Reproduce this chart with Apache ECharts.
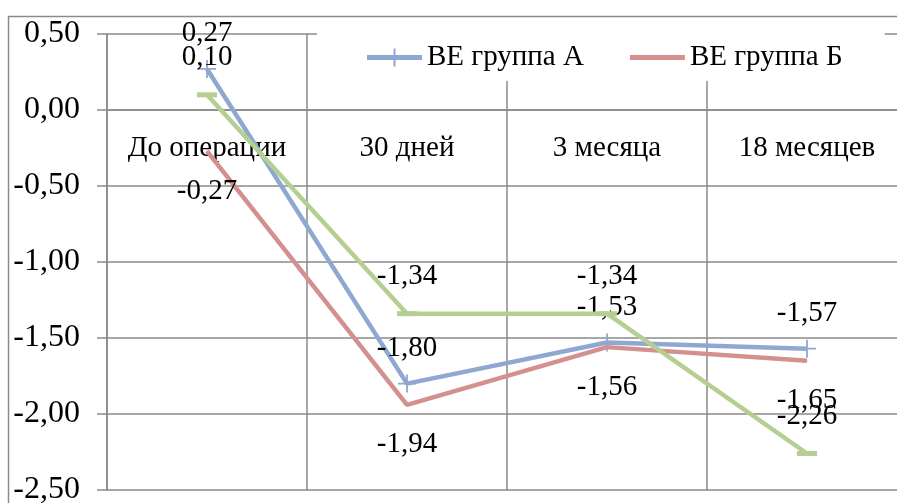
<!DOCTYPE html>
<html>
<head>
<meta charset="utf-8">
<script src="https://cdn.jsdelivr.net/npm/echarts@6/dist/echarts.min.js"></script>
<style>
  html, body { margin: 0; padding: 0; background: #fff; }
  #chart { width: 897px; height: 503px; }
</style>
</head>
<body>
<div id="chart"></div>
<script>
// Time points of the follow-up
const categories = ['До операции', '30 дней', '3 месяца', '18 месяцев'];

// Mean values per group
const groupA = [0.27, -1.80, -1.53, -1.57];
const groupB = [-0.27, -1.94, -1.56, -1.65];
const groupC = [0.10, -1.34, -1.34, -2.26];

const nameA = 'ВЕ группа А';
const nameB = 'ВЕ группа Б';
const nameC = 'ВЕ группа В';

// Value axis range
const yMin = -2.5;
const yMax = 0.5;
const yStep = 0.5;

const FONT = '"Liberation Serif", "Times New Roman", serif';
const GRID = '#8a8a8a';
const BLUE = '#8EA8D1';
const RED = '#D4908F';
const GREEN = '#B5CE92';
const FS = 29;
const fmt = v => Number(v).toFixed(2).replace('.', ',');

const chart = echarts.init(document.getElementById('chart'), null, { renderer: 'canvas' });

const labelStyle = (pos, dist) => ({
  show: true,
  position: pos,
  distance: dist,
  color: '#000',
  fontFamily: FONT,
  fontSize: FS,
  formatter: p => fmt(p.value)
});

// Category labels sit on the zero line: shift the bottom axis up to y = 0
const plotTop = 34, plotBottom = 490;
const zeroOffset = -(plotBottom - plotTop) * (0 - yMin) / (yMax - yMin);

chart.setOption({
  animation: false,
  backgroundColor: '#fff',
  textStyle: { fontFamily: FONT },
  graphic: [{
    type: 'rect',
    z: 0,
    silent: true,
    shape: { x: 8.5, y: 16.5, width: 920, height: 520 },
    style: { fill: 'none', stroke: GRID, lineWidth: 1.5 }
  }],
  grid: {
    left: 107, top: plotTop, right: -10, bottom: 503 - plotBottom,
    containLabel: false,
    outerBoundsMode: 'none'
  },
  legend: {
    data: [
      { name: nameA, icon: 'path://M0,-2.5H55V2.5H0Z M26.5,-9H28.5V9H26.5Z', itemStyle: { color: BLUE } },
      { name: nameB, icon: 'path://M0,-9L0.01,-9L0,-9Z M0,-2.5H55V2.5H0Z M0,9L0.01,9L0,9Z', itemStyle: { color: RED } }
    ],
    left: 317,
    top: 28,
    padding: [15, 42, 9, 50],
    backgroundColor: '#fff',
    itemWidth: 55,
    itemHeight: 18,
    itemGap: 46,
    textStyle: { fontFamily: FONT, fontSize: FS, color: '#000', lineHeight: 28 }
  },
  xAxis: {
    type: 'category',
    data: categories,
    position: 'bottom',
    offset: zeroOffset,
    boundaryGap: true,
    axisLine: { onZero: false, lineStyle: { color: GRID, width: 1.5 } },
    axisTick: { show: false },
    splitLine: { show: true, interval: 0, lineStyle: { color: GRID, width: 1.5 } },
    axisLabel: { interval: 0, color: '#000', fontFamily: FONT, fontSize: FS, margin: 24 }
  },
  yAxis: {
    type: 'value',
    min: yMin,
    max: yMax,
    interval: yStep,
    axisLine: { show: true, lineStyle: { color: GRID, width: 1.5 } },
    axisTick: { show: true, length: 10, lineStyle: { color: GRID, width: 1.5 } },
    splitLine: { show: true, lineStyle: { color: GRID, width: 1.5 } },
    axisLabel: { color: '#000', fontFamily: FONT, fontSize: 32, margin: 27, formatter: fmt }
  },
  series: [
    {
      name: nameA,
      type: 'line',
      data: groupA,
      symbol: 'path://M-1,-10H1V-1H10V1H1V10H-1V1H-10V-1H-1Z',
      symbolSize: 18,
      showAllSymbol: true,
      lineStyle: { color: BLUE, width: 4.5 },
      itemStyle: { color: BLUE },
      label: labelStyle('top', 12),
      z: 3
    },
    {
      name: nameB,
      type: 'line',
      data: groupB,
      symbol: 'circle',
      symbolSize: 1,
      showAllSymbol: true,
      lineStyle: { color: RED, width: 4.5 },
      itemStyle: { color: RED },
      label: labelStyle('bottom', 25),
      z: 4
    },
    {
      name: nameC,
      type: 'line',
      data: groupC,
      symbol: 'rect',
      symbolSize: [20, 5],
      showAllSymbol: true,
      lineStyle: { color: GREEN, width: 4.5 },
      itemStyle: { color: GREEN },
      label: labelStyle('top', 20),
      z: 5
    }
  ]
});
</script>
</body>
</html>
